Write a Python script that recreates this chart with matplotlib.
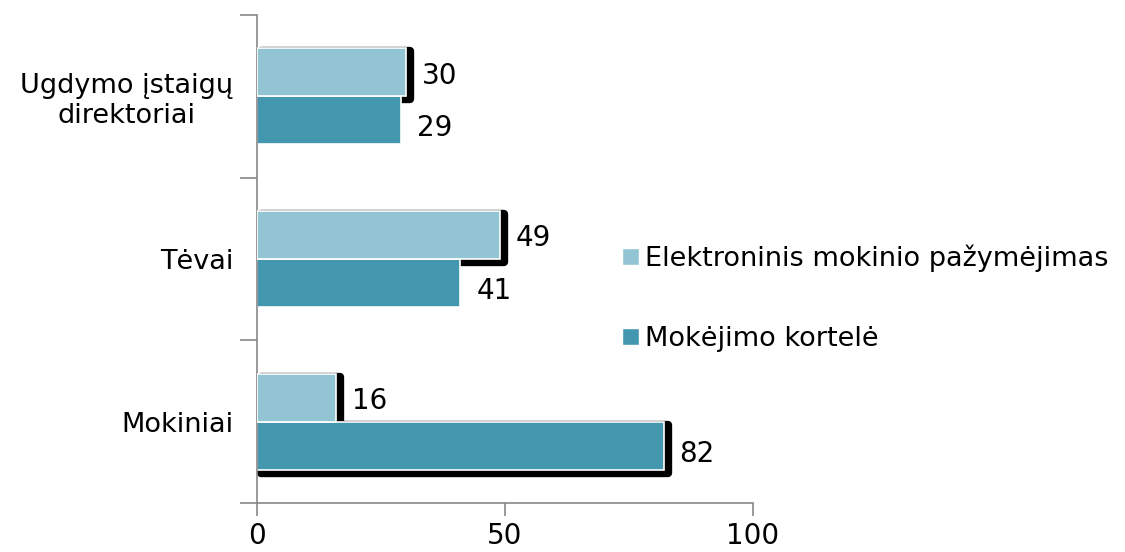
import matplotlib
matplotlib.use("Agg")
import matplotlib.pyplot as plt
import matplotlib.transforms as mtransforms
from matplotlib.patches import Patch

# data
categories = ["Mokiniai", "Tėvai", "Ugdymo įstaigų\ndirektoriai"]
elektroninis = [16, 49, 30]
kortele = [82, 41, 29]
series_names = ["Elektroninis mokinio pažymėjimas", "Mokėjimo kortelė"]
x_ticks = [0, 50, 100]

light = "#93c4d4"
dark = "#4398b0"
dark_shadow = [True, False, False]   # which dark bars got the drop shadow in the original

plt.rcParams['font.family'] = ['DejaVu Sans']

fig = plt.figure(figsize=(11.25, 5.52), dpi=100)
ax = fig.add_axes([257 / 1125, 49 / 552, 496 / 1125, 488 / 552])

ypos = list(range(len(categories)))
h = 0.295
y_light = [y + h / 2 for y in ypos]
y_dark = [y - h / 2 for y in ypos]

# drop shadows: same bars shifted right/down, drawn black underneath
shift = mtransforms.ScaledTranslation(4 / 100, -3 / 100, fig.dpi_scale_trans)
sh_tr = ax.transData + shift
ax.barh(y_light, elektroninis, height=h, color="black", edgecolor="black",
        linewidth=6, joinstyle="round", transform=sh_tr, zorder=1)
for y, v, s in zip(y_dark, kortele, dark_shadow):
    if s:
        ax.barh(y, v, height=h, color="black", edgecolor="black",
                linewidth=6, joinstyle="round", transform=sh_tr, zorder=1)

ax.barh(y_dark, kortele, height=h, color=dark, edgecolor="white", linewidth=1.2, zorder=2)
ax.barh(y_light, elektroninis, height=h, color=light, edgecolor="white", linewidth=1.2, zorder=3)

# value labels
for y, v in zip(y_light, elektroninis):
    ax.text(v + 3.2, y - 0.02, str(v), va="center", ha="left", fontsize=20)
for y, v in zip(y_dark, kortele):
    ax.text(v + 3.2, y - 0.05, str(v), va="center", ha="left", fontsize=20)

ax.set_xlim(0, 100)
ax.set_ylim(-0.5, len(categories) - 0.5)
ax.set_xticks(x_ticks)
ax.set_xticklabels([str(t) for t in x_ticks], fontsize=20)
ax.set_yticks(ypos)
ax.set_yticklabels(categories, fontsize=19.5, multialignment="center")
ax.set_yticks([y - 0.5 for y in ypos] + [len(categories) - 0.5], minor=True)
ax.tick_params(axis="y", which="major", length=0, pad=17)
ax.tick_params(axis="y", which="minor", length=12, color="#888888", width=1.2)
ax.tick_params(axis="x", length=9, color="#888888", width=1.2, pad=5)

for s in ["top", "right"]:
    ax.spines[s].set_visible(False)
for s in ["left", "bottom"]:
    ax.spines[s].set_color("#888888")
    ax.spines[s].set_linewidth(1.2)

handles = [Patch(facecolor=light, edgecolor="white"), Patch(facecolor=dark, edgecolor="white")]
fig.legend(handles, series_names, loc="center left", bbox_to_anchor=(598 / 1125, 0.46),
           frameon=False, fontsize=19.5, handlelength=0.6, handleheight=0.6,
           handletextpad=0.25, labelspacing=2.0)

fig.savefig("out.png", dpi=100)
